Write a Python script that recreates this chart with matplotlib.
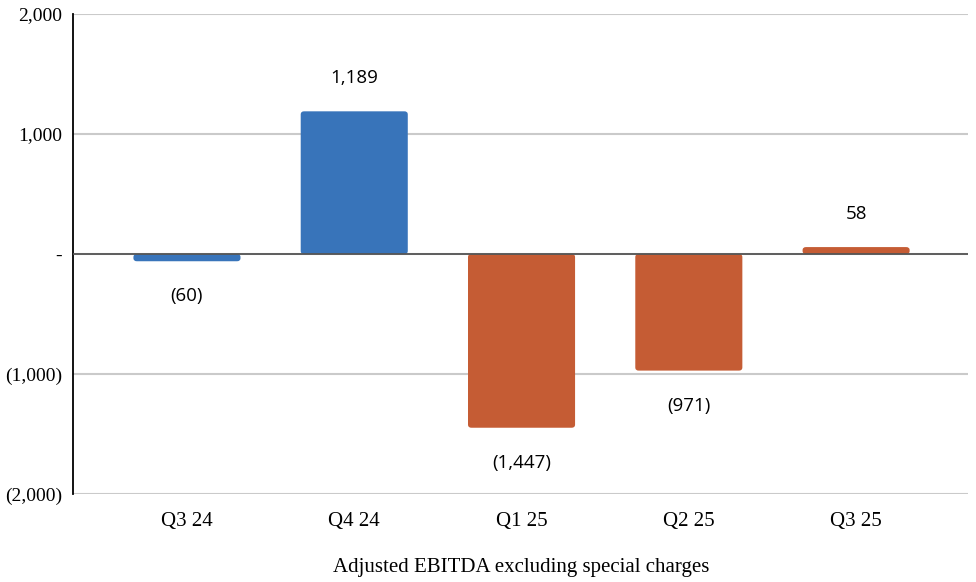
import matplotlib
matplotlib.use("Agg")
import matplotlib.pyplot as plt
from matplotlib.patches import FancyBboxPatch

quarters = ["Q3 24", "Q4 24", "Q1 25", "Q2 25", "Q3 25"]
ebitda = [-60, 1189, -1447, -971, 58]
bar_colors = ["#3874BA", "#3874BA", "#C55C34", "#C55C34", "#C55C34"]
y_ticks = [-2000, -1000, 0, 1000, 2000]
y_tick_labels = ["(2,000)", "(1,000)", "-", "1,000", "2,000"]

BAR_W = 0.64


def fmt(v):
    if v < 0:
        return f"({abs(v):,})"
    return f"{v:,}"


fig = plt.figure(figsize=(9.76, 5.82), dpi=100)
ax = fig.add_axes([0.075, 0.151, 0.917, 0.825])

x = list(range(len(quarters)))
bars = ax.bar(x, ebitda, width=BAR_W, color=bar_colors, zorder=3)

# swap bars for slightly rounded boxes
for b, c in zip(bars, bar_colors):
    b.set_visible(False)
    bx, by = b.get_xy()
    w, h = b.get_width(), b.get_height()
    if h < 0:
        by, h = by + h, -h
    p = FancyBboxPatch((bx, by), w, h, boxstyle="round,pad=0,rounding_size=0.02",
                       mutation_aspect=1300, facecolor=c, edgecolor="none", zorder=3)
    ax.add_patch(p)

# value labels
for xi, v in zip(x, ebitda):
    off = 33 if v >= 0 else -35
    ax.annotate(fmt(v), (xi, v), xytext=(0, off), textcoords="offset pixels",
                ha="center", va="center", fontsize=13.5, family="Open Sans")

ax.set_ylim(-2000, 2000)
ax.set_xlim(-0.68, 4.67)
ax.set_yticks(y_ticks)
ax.set_yticklabels(y_tick_labels, family="Liberation Serif", fontsize=14)
ax.set_xticks(x)
ax.set_xticklabels(quarters, family="Liberation Serif", fontsize=15)
ax.tick_params(length=0, pad=8)
ax.tick_params(axis="x", pad=13)

ax.grid(axis="y", color="#cacaca", linewidth=1.5, zorder=0)
ax.axhline(0, color="#555555", linewidth=1.3, zorder=4)
for s in ["top", "right", "bottom"]:
    ax.spines[s].set_visible(False)
ax.spines["left"].set_color("black")
ax.spines["left"].set_linewidth(1.3)

ax.text(0.5, -0.152, "Adjusted EBITDA excluding special charges", transform=ax.transAxes,
        ha="center", va="center", family="Liberation Serif", fontsize=15)

fig.savefig("out.png", dpi=100)
